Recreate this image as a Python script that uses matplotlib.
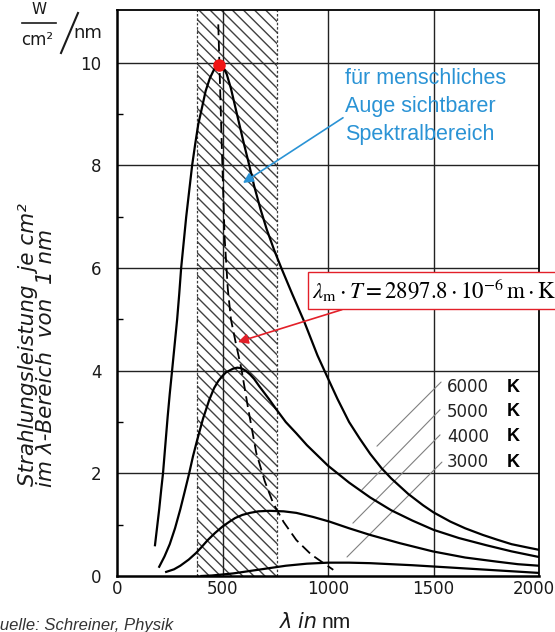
import matplotlib.pyplot as plt
import matplotlib.transforms as mtransforms

plt.rcParams["font.family"] = ["DejaVu Sans"]
plt.rcParams["mathtext.fontset"] = "stix"
plt.rcParams["hatch.linewidth"] = 1.0

# Spectral exitance: wavelength in nm, W/(cm^2 nm)
lam_6000 = [180, 190, 200, 210, 218, 230, 240, 250, 261, 273, 285, 295, 304, 316,
            328, 342, 356, 370, 385, 404, 420, 440, 460, 475, 490, 505, 520, 540,
            560, 580, 600, 627, 650, 680, 710, 745, 779, 830, 888, 950, 1000, 1045,
            1100, 1150, 1200, 1254, 1300, 1380, 1450, 1500, 1580, 1650, 1734, 1800,
            1870, 1940, 2000]
val_6000 = [0.6, 0.95, 1.3, 1.7, 2.0, 2.6, 3.1, 3.55, 4.0, 4.5, 5.0, 5.5, 6.0, 6.5,
            7.0, 7.5, 8.0, 8.4, 8.8, 9.15, 9.45, 9.7, 9.87, 9.94, 9.96, 9.9, 9.78, 9.5,
            9.15, 8.8, 8.45, 8.0, 7.6, 7.15, 6.75, 6.35, 6.0, 5.5, 4.95, 4.3, 3.85, 3.45,
            3.0, 2.68, 2.38, 2.1, 1.9, 1.6, 1.38, 1.24, 1.06, 0.93, 0.8, 0.71,
            0.62, 0.56, 0.51]

lam_5000 = [200, 225, 250, 275, 300, 320, 342, 360, 380, 408, 437, 460, 480, 500,
            517, 550, 570, 589, 610, 630, 650, 674, 720, 760, 800, 850, 900, 1000,
            1100, 1200, 1300, 1400, 1500, 1620, 1750, 1870, 2000]
val_5000 = [0.18, 0.38, 0.62, 0.93, 1.3, 1.63, 2.0, 2.33, 2.65, 3.07, 3.43, 3.66,
            3.8, 3.9, 3.97, 4.04, 4.06, 4.05, 4.0, 3.93, 3.84, 3.7, 3.45, 3.22, 3.0,
            2.78, 2.55, 2.15, 1.82, 1.53, 1.28, 1.08, 0.9, 0.74, 0.6, 0.48, 0.37]

lam_4000 = [233, 270, 300, 340, 375, 400, 430, 465, 499, 530, 560, 594, 630, 670,
            722, 790, 850, 930, 1007, 1100, 1200, 1340, 1496, 1650, 1800, 1900, 2000]
val_4000 = [0.08, 0.13, 0.2, 0.32, 0.45, 0.56, 0.7, 0.84, 0.96, 1.05, 1.13, 1.19,
            1.23, 1.26, 1.27, 1.26, 1.23, 1.15, 1.06, 0.93, 0.8, 0.64, 0.48, 0.36,
            0.28, 0.23, 0.2]

lam_3000 = [400, 450, 500, 550, 600, 650, 700, 800, 900, 1000, 1100, 1200, 1300,
            1400, 1500, 1600, 1800, 2000]
val_3000 = [0.0, 0.01, 0.03, 0.05, 0.08, 0.11, 0.14, 0.2, 0.24, 0.26, 0.26, 0.25,
            0.23, 0.21, 0.185, 0.16, 0.11, 0.06]

# Wien displacement locus (dashed)
wien_lam = [480, 495, 510, 525, 540, 565, 589, 620, 660, 700, 740, 790, 850, 920, 990, 1025]
wien_val = [10.75, 8.6, 6.6, 5.6, 5.0, 4.5, 4.05, 3.3, 2.4, 1.85, 1.42, 1.05, 0.7, 0.42, 0.22, 0.12]

visible_band = (380, 760)
peak_6000 = (485, 9.95)
temp_labels = ["6000", "5000", "4000", "3000"]
x_ticks = [0, 500, 1000, 1500, 2000]
y_ticks = [0, 2, 4, 6, 8, 10]
y_minor = [1, 3, 5, 7, 9]

W, H = 555, 632
BLUE = "#2a93d5"
RED = "#e32029"
INK = "#1a1a1a"


def fpx(x, y):
    """Pixel position in the 555x632 canvas -> figure fraction."""
    return x / W, 1 - y / H


fig = plt.figure(figsize=(W / 100, H / 100), dpi=100)
ax = fig.add_axes([117 / W, 56 / H, 422 / W, 566 / H])
ax.set_xlim(0, 2000)
ax.set_ylim(0, 11.03)

# visible band, hatched
ax.axvspan(*visible_band, facecolor="white", edgecolor="#404040", hatch="\\\\\\",
           linewidth=0, zorder=0.5)
for xb in visible_band:
    ax.axvline(xb, color="#3a3a3a", lw=0.9, ls=(0, (2, 1.5)), zorder=0.6)

for yv in y_ticks[1:]:
    ax.axhline(yv, color="#222222", lw=1.0, zorder=1)
for xv in x_ticks[1:-1]:
    ax.axvline(xv, color="#222222", lw=1.0, zorder=1)

for lam, val in [(lam_6000, val_6000), (lam_5000, val_5000),
                 (lam_4000, val_4000), (lam_3000, val_3000)]:
    ax.plot(lam, val, color="black", lw=1.6, zorder=3, solid_joinstyle="round")
ax.plot(wien_lam, wien_val, color="black", lw=1.3, ls=(0, (6, 3)), zorder=3)
ax.plot(*peak_6000, "o", color="#f01414", ms=8, zorder=6)

ax.set_xticks(x_ticks)
ax.set_yticks(y_ticks)
ax.set_yticks(y_minor, minor=True)
ax.tick_params(axis="both", which="major", length=0, labelsize=12, colors=INK)
ax.tick_params(axis="x", pad=3)
ax.tick_params(axis="y", pad=11)
ax.tick_params(axis="y", which="minor", direction="in", length=4, width=1)
for side, lw in [("left", 1.8), ("bottom", 1.8), ("top", 1.3), ("right", 1.3)]:
    ax.spines[side].set_linewidth(lw)
last = ax.get_xticklabels()[-1]
last.set_transform(last.get_transform()
                   + mtransforms.ScaledTranslation(-5 / 100, 0, fig.dpi_scale_trans))

# temperature labels with leader lines
label_y = [3.68, 3.2, 2.71, 2.22]
leaders = [((1536, 3.78), (1232, 2.53)), ((1531, 3.24), (1161, 1.68)),
           ((1531, 2.75), (1118, 1.03)), ((1540, 2.22), (1090, 0.37))]
for txt, yv, (start, end) in zip(temp_labels, label_y, leaders):
    ax.text(1564, yv, txt, fontsize=12, va="center", color="#222222", zorder=5)
    ax.text(1848, yv, "K", fontsize=13, fontweight="bold", family="Liberation Sans",
            va="center", zorder=5)
    ax.annotate("", xy=end, xytext=start,
                arrowprops=dict(arrowstyle="-", color="#808080", lw=0.8,
                                shrinkA=0, shrinkB=0), zorder=2)

# visible-range note
ax.text(1081, 9.9, "für menschliches\nAuge sichtbarer\nSpektralbereich",
        color=BLUE, fontsize=15.5, family="Liberation Sans", va="top", ha="left",
        linespacing=1.45, zorder=5)
ax.annotate("", xy=(597, 7.66), xytext=(1071, 8.93),
            arrowprops=dict(arrowstyle="-|>,head_length=0.6,head_width=0.3",
                            color=BLUE, lw=1.2, shrinkA=0, shrinkB=0), zorder=5)

# Wien's law box
ax.text(926, 5.57, r"$\lambda_{\rm m}\cdot T = 2897.8\cdot 10^{-6}\,{\rm m}\cdot{\rm K}$",
        fontsize=16.5, va="center", ha="left", zorder=6, clip_on=False,
        bbox=dict(boxstyle="square,pad=0.2", fc="white", ec=RED, lw=1.0))
ax.annotate("", xy=(573, 4.56), xytext=(1066, 5.19),
            arrowprops=dict(arrowstyle="-|>,head_length=0.6,head_width=0.3",
                            color=RED, lw=1.2, shrinkA=0, shrinkB=0), zorder=5)

# axis titles
fig.text(*fpx(28, 486), "Strahlungsleistung  je cm²", rotation=90, style="italic",
         fontsize=15.5, ha="center", va="bottom", color=INK)
fig.text(*fpx(46, 487), "im λ-Bereich  von  1 nm", rotation=90, style="italic",
         fontsize=15.5, ha="center", va="bottom", color=INK)

fig.text(*fpx(39, 10), "W", fontsize=11, ha="center", va="center", color=INK)
fig.add_artist(plt.Line2D([22 / W, 56 / W], [1 - 23 / H, 1 - 23 / H], color=INK, lw=1.2))
fig.text(*fpx(37, 40), "cm²", fontsize=12, ha="center", va="center", color=INK)
fig.add_artist(plt.Line2D([61 / W, 78 / W], [1 - 53 / H, 1 - 13 / H], color=INK, lw=1.5))
fig.text(*fpx(88, 33), "nm", fontsize=13, ha="center", va="center", color=INK)

fig.text(*fpx(318, 628), "λ in", style="italic", fontsize=15, ha="right",
         va="baseline", color=INK)
fig.text(*fpx(322, 628), "nm", family="Liberation Sans", fontsize=15, ha="left",
         va="baseline", color=INK)

fig.text(*fpx(-13, 630), "Quelle: Schreiner, Physik", family="Liberation Sans",
         style="italic", fontsize=12, color="#333333", va="baseline")

fig.savefig("out.png", dpi=100)
